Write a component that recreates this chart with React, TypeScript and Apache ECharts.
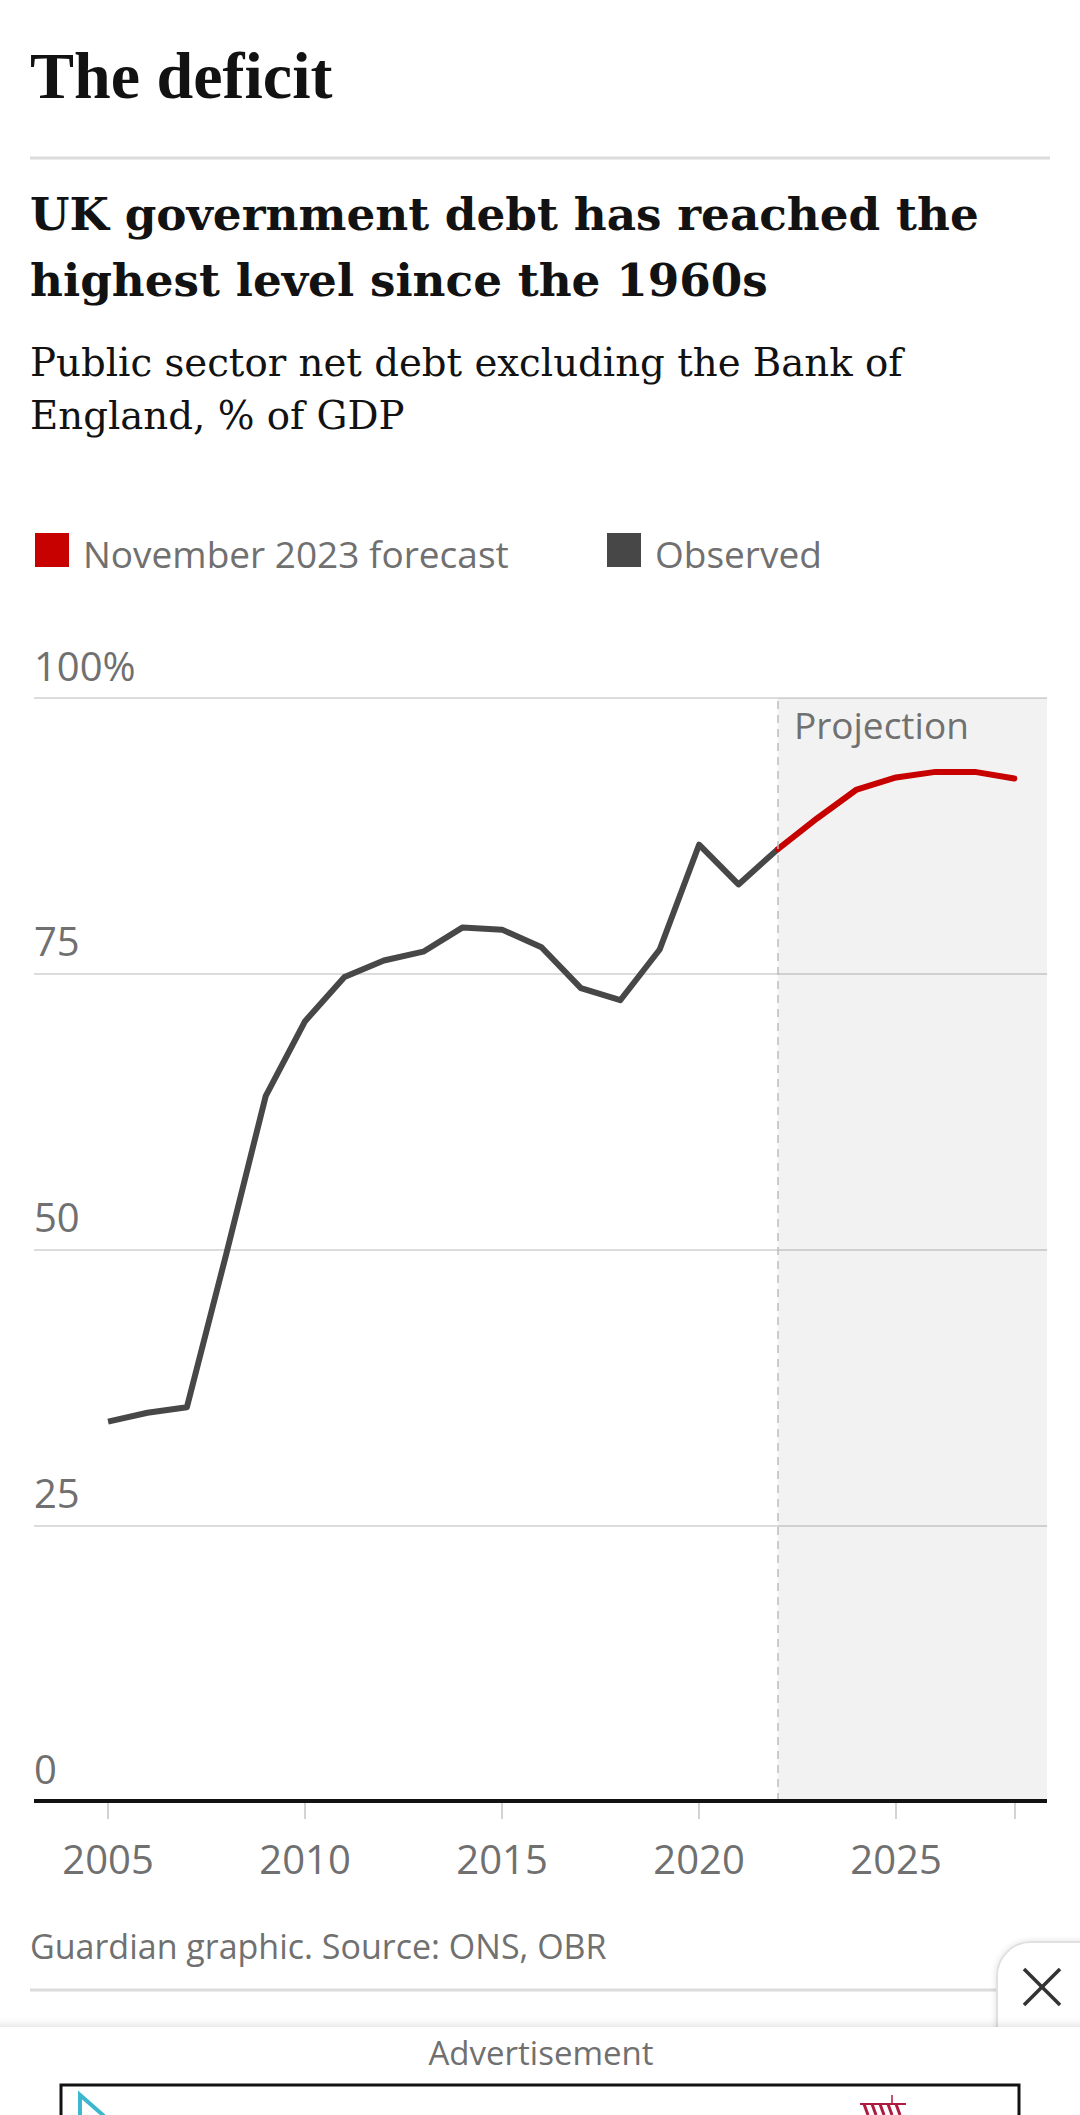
import React, { useEffect, useRef } from "react";
import * as echarts from "echarts";

// ---- data ----
const observedYears = [2005, 2006, 2007, 2008, 2009, 2010, 2011, 2012, 2013, 2014, 2015, 2016, 2017, 2018, 2019, 2020, 2021, 2022];
const observedValues = [34.4, 35.2, 35.7, 49.6, 63.9, 70.7, 74.7, 76.2, 77.0, 79.2, 79.0, 77.4, 73.7, 72.6, 77.2, 86.7, 83.1, 86.3];
const forecastYears = [2022, 2023, 2024, 2025, 2026, 2027, 2028];
const forecastValues = [86.3, 89.1, 91.7, 92.8, 93.3, 93.3, 92.7];
const xLabelYears = [2005, 2010, 2015, 2020, 2025];
const xTickYears = [2005, 2010, 2015, 2020, 2025, 2028];
const projectionStart = 2022;
const xMin = 2003.12;
const xMax = 2028.83;

const titleText = "The deficit";
const headlineLines = ["UK government debt has reached the", "highest level since the 1960s"];
const subtitleLines = ["Public sector net debt excluding the Bank of", "England, % of GDP"];
const legendNames = ["November 2023 forecast", "Observed"];
const sourceText = "Guardian graphic. Source: ONS, OBR";

const SANS = '"Open Sans", sans-serif';
const HEAD = '"DejaVu Serif", serif';
const TITLE_SERIF = '"Liberation Serif", serif';
const RED = "#c70000";
const DARK = "#474747";
const GREY_TEXT = "#707070";

export default function App() {
  const ref = useRef<HTMLDivElement>(null);

  useEffect(() => {
    if (!ref.current) return;
    const chart = echarts.init(ref.current, null, { renderer: "svg" });
    const observedData = observedYears.map((y, i) => [y, observedValues[i]]);
    const forecastData = forecastYears.map((y, i) => [y, forecastValues[i]]);

    chart.setOption({
      animation: false,
      backgroundColor: "#ffffff",
      grid: { left: 34, right: 33, top: 698, bottom: 314, containLabel: false, outerBoundsMode: "none" },
      xAxis: {
        type: "value",
        min: xMin,
        max: xMax,
        splitLine: { show: false },
        axisLine: { show: false },
        axisTick: {
          show: true,
          customValues: xTickYears,
          length: 18,
          lineStyle: { color: "#c4c4c4", width: 1.5 },
        },
        axisLabel: {
          show: true,
          customValues: xLabelYears,
          formatter: (v: number) => String(v),
          margin: 37,
          fontSize: 40,
          fontFamily: SANS,
          color: GREY_TEXT,
        },
      },
      yAxis: {
        type: "value",
        min: 0,
        max: 100,
        interval: 25,
        axisLine: { show: false },
        axisTick: { show: false },
        splitLine: { show: true, lineStyle: { color: "#dcdcdc", width: 2 } },
        axisLabel: {
          inside: true,
          margin: 0,
          verticalAlign: "bottom",
          padding: [0, 0, 13, 0],
          fontSize: 40,
          fontFamily: SANS,
          color: GREY_TEXT,
          formatter: (v: number) => (v === 100 ? "100%" : String(v)),
        },
      },
      series: [
        {
          name: legendNames[1],
          type: "line",
          data: observedData,
          symbol: "none",
          lineStyle: { color: DARK, width: 6, join: "round" },
          itemStyle: { color: DARK },
          markArea: {
            silent: true,
            itemStyle: { color: "rgba(0,0,0,0.051)" },
            label: {
              show: true,
              position: [16, 8],
              formatter: "Projection",
              fontSize: 37,
              fontFamily: SANS,
              color: GREY_TEXT,
            },
            data: [[{ xAxis: projectionStart }, { xAxis: xMax }]],
          },
          markLine: {
            silent: true,
            symbol: ["none", "none"],
            label: { show: false },
            data: [
              { xAxis: projectionStart, lineStyle: { type: [8, 6], color: "#bdbdbd", width: 1.5 } },
              { yAxis: 0, lineStyle: { type: "solid", color: "#121212", width: 4 } },
            ],
          },
        },
        {
          name: legendNames[0],
          type: "line",
          data: forecastData,
          symbol: "none",
          lineStyle: { color: RED, width: 6, join: "round", cap: "round" },
          itemStyle: { color: RED },
        },
      ],
      graphic: [
        { type: "text", x: 30, y: 75, style: { text: titleText, font: `bold 66px ${TITLE_SERIF}`, fill: "#121212", verticalAlign: "middle" } },
        { type: "line", shape: { x1: 30, y1: 158, x2: 1050, y2: 158 }, style: { stroke: "#dcdcdc", lineWidth: 3 } },
        { type: "text", x: 30, y: 214, style: { text: headlineLines[0], font: `bold 45.3px ${HEAD}`, fill: "#121212", verticalAlign: "middle" } },
        { type: "text", x: 30, y: 280, style: { text: headlineLines[1], font: `bold 45.3px ${HEAD}`, fill: "#121212", verticalAlign: "middle" } },
        { type: "text", x: 30, y: 362, style: { text: subtitleLines[0], font: `38.7px ${HEAD}`, fill: "#121212", verticalAlign: "middle" } },
        { type: "text", x: 30, y: 415, style: { text: subtitleLines[1], font: `38.7px ${HEAD}`, fill: "#121212", verticalAlign: "middle" } },
        { type: "rect", shape: { x: 35, y: 533, width: 34, height: 34 }, style: { fill: RED } },
        { type: "text", x: 83, y: 553, style: { text: legendNames[0], font: `37px ${SANS}`, fill: GREY_TEXT, verticalAlign: "middle" } },
        { type: "rect", shape: { x: 607, y: 533, width: 34, height: 34 }, style: { fill: DARK } },
        { type: "text", x: 655, y: 553, style: { text: legendNames[1], font: `37px ${SANS}`, fill: GREY_TEXT, verticalAlign: "middle" } },
        { type: "text", x: 30, y: 1946, style: { text: sourceText, font: `34px ${SANS}`, fill: GREY_TEXT, verticalAlign: "middle" } },
        { type: "line", shape: { x1: 30, y1: 1990, x2: 1050, y2: 1990 }, style: { stroke: "#dcdcdc", lineWidth: 3 } },
        // ad overlay
        {
          type: "rect",
          shape: { x: 997, y: 1942, width: 100, height: 100, r: [34, 0, 0, 0] },
          style: { fill: "#ffffff", stroke: "#e0e0e0", lineWidth: 2, shadowBlur: 6, shadowColor: "rgba(0,0,0,0.12)" },
        },
        { type: "line", shape: { x1: 1024, y1: 1969, x2: 1060, y2: 2005 }, style: { stroke: "#333333", lineWidth: 3.5 } },
        { type: "line", shape: { x1: 1060, y1: 1969, x2: 1024, y2: 2005 }, style: { stroke: "#333333", lineWidth: 3.5 } },
        {
          type: "rect",
          shape: { x: -10, y: 2027, width: 1100, height: 120 },
          style: { fill: "#ffffff", shadowBlur: 8, shadowOffsetY: -2, shadowColor: "rgba(0,0,0,0.12)" },
        },
        { type: "text", x: 541, y: 2052, style: { text: "Advertisement", font: `33px ${SANS}`, fill: GREY_TEXT, align: "center", verticalAlign: "middle" } },
        { type: "rect", shape: { x: 61, y: 2085, width: 958, height: 60 }, style: { fill: "#ffffff", stroke: "#121212", lineWidth: 3 } },
        { type: "polyline", shape: { points: [[80, 2118], [80, 2095], [104, 2116]] }, style: { stroke: "#3db7cf", lineWidth: 4, fill: "none" } },
        { type: "line", shape: { x1: 864, y1: 2104, x2: 868, y2: 2115 }, style: { stroke: "#b01a40", lineWidth: 3 } },
        { type: "line", shape: { x1: 872, y1: 2104, x2: 876, y2: 2115 }, style: { stroke: "#b01a40", lineWidth: 3 } },
        { type: "line", shape: { x1: 880, y1: 2104, x2: 884, y2: 2115 }, style: { stroke: "#b01a40", lineWidth: 3 } },
        { type: "line", shape: { x1: 888, y1: 2104, x2: 892, y2: 2115 }, style: { stroke: "#b01a40", lineWidth: 3 } },
        { type: "line", shape: { x1: 896, y1: 2104, x2: 900, y2: 2115 }, style: { stroke: "#b01a40", lineWidth: 3 } },
        { type: "line", shape: { x1: 892, y1: 2095, x2: 892, y2: 2104 }, style: { stroke: "#b01a40", lineWidth: 1.5 } },
        { type: "line", shape: { x1: 860, y1: 2104, x2: 906, y2: 2104 }, style: { stroke: "#b01a40", lineWidth: 2 } },
      ],
    });
    return () => chart.dispose();
  }, []);

  return <div ref={ref} style={{ position: "absolute", left: 0, top: 0, width: 1080, height: 2115 }} />;
}
